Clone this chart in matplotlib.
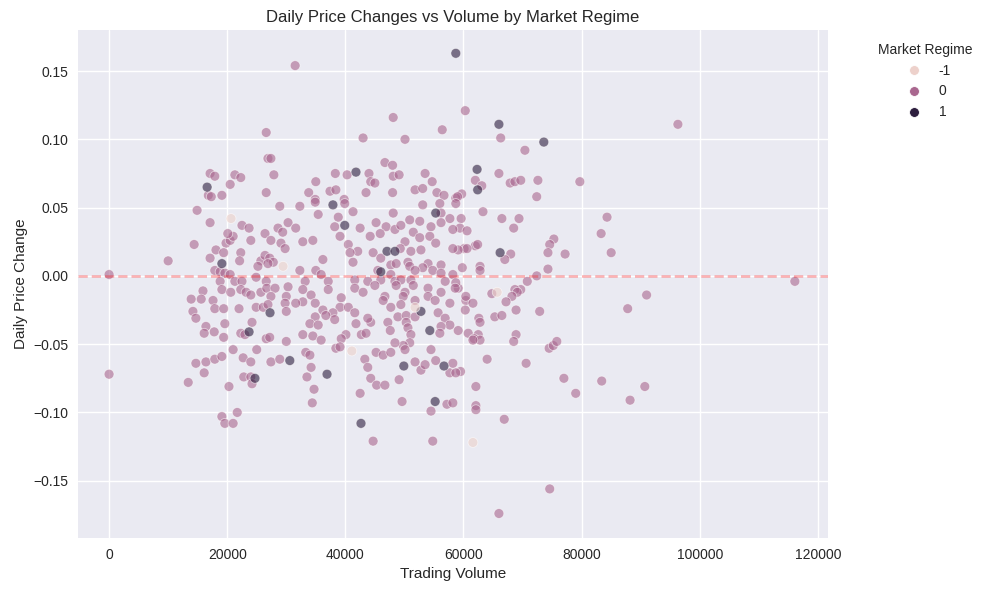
import pandas as pd
import matplotlib
matplotlib.use("Agg")
import matplotlib.pyplot as plt
import seaborn as sns

# (volume, daily change), grouped by regime
REGIME_NEG = [(20650, 0.042), (29450, 0.007), (51800, -0.023), (41100, -0.055),
              (65700, -0.012), (61600, -0.122)]

REGIME_POS = [(58700, 0.163), (16600, 0.065), (41800, 0.076), (37900, 0.052), (39900, 0.037),
              (47050, 0.018), (48400, 0.018), (46000, 0.003), (27250, -0.027), (52800, -0.026),
              (54300, -0.040), (30600, -0.062), (49900, -0.066), (56700, -0.066), (55300, 0.046),
              (19100, 0.009), (23700, -0.041), (66200, 0.017), (66000, 0.111), (73600, 0.098),
              (62300, 0.078), (62400, 0.063), (24700, -0.075), (36900, -0.072), (42650, -0.108),
              (55200, -0.092)]

REGIME_ZERO = [
    # upper area
    (26600, 0.105), (17100, 0.075), (17900, 0.073), (21300, 0.074), (22300, 0.072), (20500, 0.067),
    (26900, 0.086), (19100, 0.059), (16800, 0.059), (17300, 0.058), (26600, 0.061),
    (31500, 0.154), (48100, 0.116), (43000, 0.101), (50100, 0.100), (56400, 0.107), (27400, 0.086),
    (27900, 0.074), (35000, 0.069), (38300, 0.075), (40300, 0.074), (44000, 0.075), (46700, 0.083),
    (48000, 0.081), (48100, 0.073), (49100, 0.074), (44300, 0.069), (45000, 0.068), (53500, 0.075),
    (54700, 0.069), (33800, 0.061), (37400, 0.062), (38400, 0.063), (43500, 0.061), (48000, 0.061),
    (51800, 0.063), (53100, 0.064), (55500, 0.061), (56700, 0.059),
    (60300, 0.121), (66300, 0.101), (70400, 0.092), (66000, 0.075), (62000, 0.070), (63100, 0.066),
    (67900, 0.068), (68700, 0.069), (69700, 0.070), (72600, 0.070), (79700, 0.069), (59700, 0.060),
    (72400, 0.058), (96300, 0.111), (39800, 0.056), (34900, 0.056), (58700, 0.057), (59000, 0.058),
    # right side
    (63300, 0.047), (66500, 0.042), (69400, 0.042), (68500, 0.035), (59600, 0.042), (59400, 0.035),
    (60600, 0.033), (75300, 0.027), (74600, 0.023), (74300, 0.017), (77200, 0.016), (84300, 0.043),
    (83300, 0.031), (85000, 0.017), (68000, 0.016), (67000, 0.012), (62000, 0.022), (62400, 0.023),
    (60100, 0.020), (60600, 0.020), (59800, 0.006), (62800, 0.007), (62800, 0.004), (74300, 0.005),
    (72400, 0.000), (70800, -0.004), (69700, -0.010), (68700, -0.010), (69100, -0.012), (68200, -0.015),
    (67200, -0.019), (64800, -0.013), (68900, -0.025), (72900, -0.026), (65300, -0.030), (66500, -0.029),
    (60400, -0.018), (60400, -0.015), (60300, -0.025), (61600, -0.020), (62600, -0.031), (62800, -0.034),
    (60800, -0.042), (62500, -0.043), (61800, -0.046), (62800, -0.047), (68900, -0.043), (68500, -0.048),
    (74500, -0.053), (75200, -0.051), (75800, -0.048), (64000, -0.061), (70600, -0.064), (87800, -0.024),
    (91000, -0.014), (116100, -0.004), (59100, 0.019), (59100, -0.009), (59100, -0.040), (61600, -0.047),
    # lower right
    (59500, -0.070), (62100, -0.081), (62100, -0.095), (62100, -0.098), (66900, -0.105), (77000, -0.075),
    (79000, -0.086), (83400, -0.077), (88200, -0.091), (90700, -0.081), (74600, -0.156), (66000, -0.174),
    # lower middle
    (33500, -0.074), (34700, -0.083), (34400, -0.093), (42500, -0.086), (44300, -0.075), (45300, -0.080),
    (46700, -0.080), (49100, -0.076), (49600, -0.092), (44700, -0.121), (54800, -0.121), (54500, -0.099),
    (57200, -0.094), (58200, -0.093), (57700, -0.071), (58700, -0.071), (52800, -0.069),
    # lower left
    (0, -0.072), (13400, -0.078), (16100, -0.071), (20300, -0.081), (22800, -0.074), (24000, -0.074),
    (24200, -0.079), (19100, -0.103), (19600, -0.108), (21700, -0.100), (21000, -0.108),
    # left cluster
    (0, 0.001), (10000, 0.011), (14400, 0.023), (14900, 0.048), (17100, 0.039), (18100, 0.019),
    (17100, 0.013), (15900, -0.011), (13900, -0.017), (15600, -0.017), (17600, -0.018), (17900, -0.024),
    (14200, -0.026), (14700, -0.031), (16400, -0.037), (16100, -0.042), (17800, -0.041), (19400, -0.024),
    (19600, -0.035), (19400, -0.045), (14700, -0.064), (16400, -0.063), (17900, -0.061), (19100, -0.059),
    (21000, -0.054), (22000, -0.024), (22700, -0.060), (24000, -0.063), (25000, -0.054), (24200, -0.034),
    (26600, -0.046), (22300, -0.042), (23000, -0.043),
    (22500, 0.037), (23700, 0.035), (24000, 0.026), (26400, 0.031), (19800, 0.024), (20500, 0.026),
    (21000, 0.029), (20100, 0.031), (19400, 0.017), (22300, 0.017), (22100, 0.011), (25700, 0.011),
    (25200, 0.007), (17900, 0.004), (18800, 0.003), (19600, 0.002), (20500, 0.001), (21300, -0.004),
    (22500, -0.004), (18800, -0.004), (19100, -0.010), (20600, -0.012), (22300, -0.010), (23200, -0.012),
    (24000, -0.014), (25700, -0.012), (24900, -0.001), (26600, -0.004), (24900, -0.023), (26100, -0.023),
    (26400, 0.015), (26700, -0.009),
    # dense centre
    (28900, 0.051), (32300, 0.051), (34900, 0.054), (39900, 0.053), (53100, 0.052), (56000, 0.053),
    (58700, 0.053), (35400, 0.045), (38800, 0.043), (41300, 0.047), (48100, 0.046), (56200, 0.046),
    (57700, 0.042), (30300, 0.039), (28600, 0.035), (29400, 0.032), (31600, 0.035), (38200, 0.036),
    (42500, 0.035), (45200, 0.039), (46900, 0.036), (48400, 0.034), (49400, 0.037), (50900, 0.041),
    (52600, 0.040), (51500, 0.032), (54500, 0.036), (56200, 0.039), (58200, 0.034), (45900, 0.031),
    (44200, 0.029), (32800, 0.025), (34500, 0.026), (39100, 0.029), (40500, 0.023), (50100, 0.025),
    (52600, 0.028), (54300, 0.029), (55300, 0.024), (58200, 0.020), (29100, 0.024), (27400, 0.026),
    (29800, 0.020), (49300, 0.020), (51100, 0.018), (52800, 0.019), (42100, 0.018), (44700, 0.017),
    (40800, 0.017), (27200, 0.013), (27800, 0.010), (36200, 0.012), (41300, 0.010), (46000, 0.013),
    (47700, 0.008), (48600, 0.009), (50600, 0.010), (50900, 0.007), (54000, 0.009), (56200, 0.008),
    (53100, 0.006), (51800, 0.004), (54800, 0.004), (32300, 0.004), (35000, 0.004), (26900, 0.009),
    (56200, 0.002), (58200, 0.001), (45500, 0.004), (47700, 0.001), (35900, 0.001),
    (41600, -0.003), (43800, -0.004), (46000, -0.003), (48400, -0.004), (51100, -0.003), (49400, -0.003),
    (33200, -0.004), (37100, -0.004), (56900, -0.004), (58700, -0.005), (45000, -0.007), (48600, -0.007),
    (51500, -0.007), (28100, -0.009), (30300, -0.008), (32800, -0.010), (37100, -0.010), (41600, -0.009),
    (43000, -0.012), (50100, -0.012), (54000, -0.009), (56200, -0.012), (58600, -0.009), (49800, -0.015),
    (51800, -0.018), (54000, -0.015), (46700, -0.015), (30000, -0.015), (34200, -0.014), (39300, -0.016),
    (27400, -0.015), (29800, -0.020), (32800, -0.019), (34900, -0.020), (31600, -0.020), (39100, -0.023),
    (40500, -0.023), (46400, -0.018), (47700, -0.023), (49400, -0.021), (55200, -0.018), (57700, -0.020),
    (26900, -0.021), (30000, -0.026), (36200, -0.025), (37900, -0.027), (41600, -0.027), (48900, -0.030),
    (50300, -0.029), (51800, -0.030), (55700, -0.027), (56900, -0.031), (36700, -0.029), (34900, -0.030),
    (44300, -0.034), (47200, -0.034), (50300, -0.034), (38200, -0.032), (34000, -0.035), (35400, -0.036),
    (41800, -0.035), (43800, -0.031), (57700, -0.036), (56200, -0.037), (47600, -0.040), (50600, -0.038),
    (51100, -0.043), (50900, -0.049), (49800, -0.051), (42700, -0.043), (43500, -0.042), (40100, -0.043),
    (39300, -0.046), (56000, -0.042), (32800, -0.043), (34500, -0.044), (35900, -0.047), (30000, -0.048),
    (27200, -0.045), (48400, -0.049), (54500, -0.054), (33300, -0.056), (34000, -0.058), (38400, -0.053),
    (39100, -0.052), (43300, -0.061), (45200, -0.056), (46400, -0.058), (47700, -0.056), (50100, -0.054),
    (27400, -0.063), (28900, -0.061), (34200, -0.067), (43800, -0.067), (51800, -0.063), (53500, -0.065),
    (55300, -0.062), (58200, -0.064),
]

volume = [p[0] for p in REGIME_ZERO + REGIME_POS + REGIME_NEG]
change = [p[1] for p in REGIME_ZERO + REGIME_POS + REGIME_NEG]
regime = [0] * len(REGIME_ZERO) + [1] * len(REGIME_POS) + [-1] * len(REGIME_NEG)

df = pd.DataFrame({"Volume": volume, "Price_Change": change, "Market_Regime": regime})

plt.style.use("seaborn-v0_8")
fig = plt.figure(figsize=(9.88, 5.9), dpi=100)
ax = fig.add_axes([0.079, 0.088, 0.759, 0.861])

sns.scatterplot(data=df, x="Volume", y="Price_Change", hue="Market_Regime",
                alpha=0.6, s=50, ax=ax)
ax.axhline(0, color="r", linestyle="--", alpha=0.3, linewidth=1.8)

ax.set_xlim(-5250, 121700)
ax.set_ylim(-0.192, 0.180)
ax.set_title("Daily Price Changes vs Volume by Market Regime")
ax.set_xlabel("Trading Volume")
ax.set_ylabel("Daily Price Change")
leg = ax.legend(title="Market Regime", bbox_to_anchor=(1.05, 1), loc="upper left")
for h in leg.legend_handles:
    h.set_alpha(1)

fig.savefig("out.png", dpi=100)
